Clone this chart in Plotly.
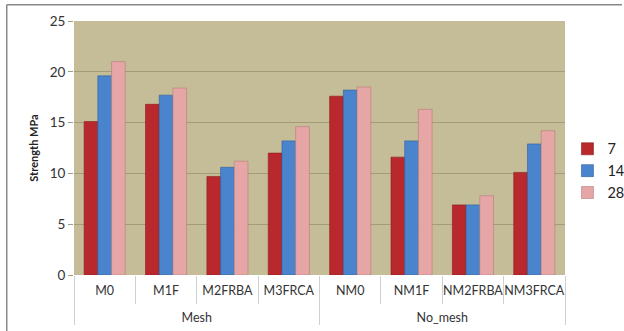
import plotly.graph_objects as go

# Specimen groups and mix designations
groups = ["Mesh"] * 4 + ["No_mesh"] * 4
mixes = ["M0", "M1F", "M2FRBA", "M3FRCA", "NM0", "NM1F", "NM2FRBA", "NM3FRCA"]

# Compressive strength (MPa) at curing age in days
day7 = [15.1, 16.8, 9.7, 12.0, 17.6, 11.6, 6.9, 10.1]
day14 = [19.6, 17.7, 10.6, 13.2, 18.2, 13.2, 6.9, 12.9]
day28 = [21.0, 18.4, 11.2, 14.6, 18.5, 16.3, 7.8, 14.2]

series = [
    ("7", day7, "#b8282c", "#8a1c1f"),
    ("14", day14, "#4a84cc", "#2f5f9a"),
    ("28", day28, "#e6a6a6", "#b77c7c"),
]

# outer level gets an extra line of spacing below the mix names
outer = ["<br>" + g for g in groups]

fig = go.Figure()
for name, vals, color, edge in series:
    fig.add_trace(go.Bar(
        x=[outer, mixes], y=vals, name=name,
        marker=dict(color=color, line=dict(color=edge, width=0.6)),
    ))

font_family = "Lato, 'Open Sans', sans-serif"

fig.update_layout(
    width=624, height=331,
    margin=dict(l=74, r=59, t=21, b=56, autoexpand=False),
    paper_bgcolor="white",
    plot_bgcolor="#c5bd97",
    barmode="group",
    bargap=0.33,
    bargroupgap=0,
    font=dict(family=font_family, size=13, color="#333333"),
    legend=dict(
        x=1.005, y=0.41, xanchor="left", yanchor="middle",
        bgcolor="rgba(0,0,0,0)",
        font=dict(size=14.5, color="#222222"),
        itemwidth=30,
    ),
    shapes=[
        dict(type="line", xref="paper", yref="paper",
             x0=-0.137, x1=1.116, y0=1.064, y1=1.064,
             line=dict(color="#888888", width=1.5)),
        dict(type="line", xref="paper", yref="paper",
             x0=-0.137, x1=-0.137, y0=1.064, y1=-0.3,
             line=dict(color="#888888", width=1.5)),
    ],
)

fig.update_yaxes(
    range=[0, 25], dtick=5, automargin=False,
    showgrid=True, gridcolor="#a39c7a", gridwidth=1,
    ticks="outside", ticklen=5, tickcolor="#a39c7a",
    zeroline=False, showline=False,
    tickfont=dict(size=13.5, color="#333333"),
    title=dict(text="<b>Strength MPa</b>", font=dict(size=11, color="#222222"), standoff=8),
)

fig.update_xaxes(
    type="multicategory", automargin=False, tickangle=0,
    tickson="boundaries", ticks="outside", ticklen=28, tickcolor="#d0d0d0",
    ticklabelstandoff=6,
    showdividers=True, dividercolor="#d0d0d0", dividerwidth=1,
    showgrid=False, showline=False,
    tickfont=dict(size=12.5, color="#333333"),
)

fig.write_html("out.html")
